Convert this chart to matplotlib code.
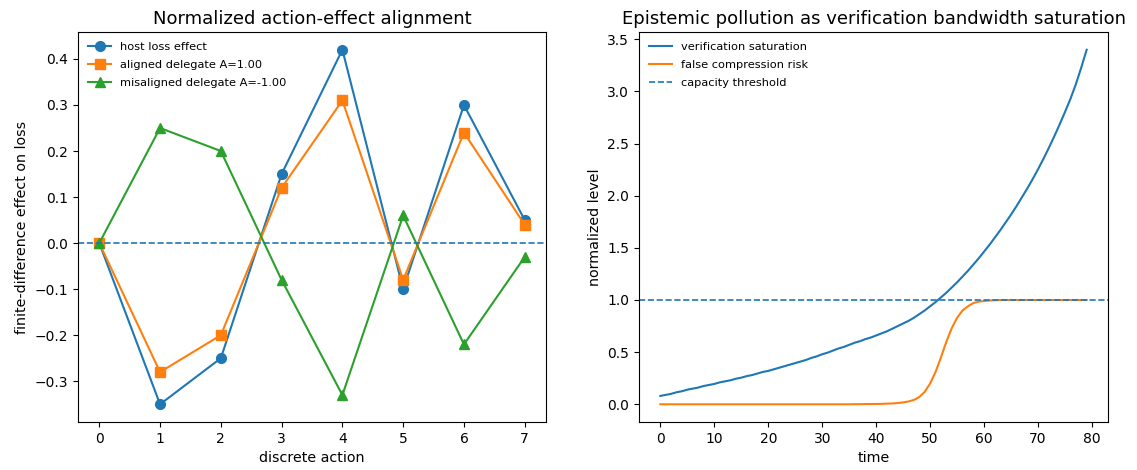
import matplotlib
matplotlib.use("Agg")
import matplotlib.pyplot as plt
import numpy as np

actions = [0, 1, 2, 3, 4, 5, 6, 7]
host_effect = [0.0, -0.35, -0.25, 0.15, 0.42, -0.10, 0.30, 0.05]
aligned_effect = [0.0, -0.28, -0.20, 0.12, 0.31, -0.08, 0.24, 0.04]
misaligned_effect = [0.0, 0.25, 0.20, -0.08, -0.33, 0.06, -0.22, -0.03]

time = list(range(80))
verification = [
    0.08, 0.09, 0.10, 0.115, 0.125, 0.14, 0.15, 0.16, 0.175, 0.185,
    0.195, 0.21, 0.22, 0.23, 0.245, 0.255, 0.27, 0.28, 0.295, 0.31,
    0.32, 0.335, 0.35, 0.365, 0.38, 0.395, 0.41, 0.425, 0.445, 0.46,
    0.48, 0.495, 0.515, 0.535, 0.55, 0.57, 0.59, 0.605, 0.625, 0.64,
    0.66, 0.68, 0.70, 0.725, 0.75, 0.775, 0.80, 0.83, 0.865, 0.90,
    0.94, 0.98, 1.025, 1.07, 1.12, 1.17, 1.225, 1.28, 1.34, 1.40,
    1.465, 1.53, 1.60, 1.67, 1.745, 1.82, 1.90, 1.985, 2.07, 2.16,
    2.255, 2.355, 2.46, 2.57, 2.685, 2.805, 2.93, 3.07, 3.23, 3.40,
]
false_risk = [
    0.0, 0.0, 0.0, 0.0, 0.0, 0.0, 0.0, 0.0, 0.0, 0.0,
    0.0, 0.0, 0.0, 0.0, 0.0, 0.0, 0.0, 0.0, 0.0, 0.0,
    0.0, 0.0, 0.0, 0.0, 0.0, 0.0, 0.0, 0.0, 0.0, 0.0,
    0.0, 0.0, 0.0, 0.0, 0.0, 0.0, 0.001, 0.001, 0.002, 0.002,
    0.003, 0.004, 0.006, 0.008, 0.012, 0.018, 0.027, 0.042, 0.07, 0.12,
    0.20, 0.31, 0.45, 0.60, 0.73, 0.83, 0.90, 0.94, 0.97, 0.985,
    0.99, 0.995, 0.998, 1.0, 1.0, 1.0, 1.0, 1.0, 1.0, 1.0,
    1.0, 1.0, 1.0, 1.0, 1.0, 1.0, 1.0, 1.0, 1.0, 1.0,
]
threshold = 1.0

W, H = 1137, 470
fig = plt.figure(figsize=(W / 100, H / 100), dpi=100)
ax1 = fig.add_axes([78 / W, 1 - 422 / H, 468 / W, 390 / H])
ax2 = fig.add_axes([639 / W, 1 - 422 / H, 469 / W, 390 / H])

ax1.plot(actions, host_effect, marker='o', markersize=7, label='host loss effect')
ax1.plot(actions, aligned_effect, marker='s', markersize=7, label='aligned delegate A=1.00')
ax1.plot(actions, misaligned_effect, marker='^', markersize=7, label='misaligned delegate A=-1.00')
ax1.axhline(0.0, linestyle='--', linewidth=1.2, color='C0')
ax1.set_title('Normalized action-effect alignment', fontsize=13)
ax1.set_xlabel('discrete action', fontsize=10.3)
ax1.set_ylabel('finite-difference effect on loss', fontsize=10.3)
ax1.legend(loc='upper left', fontsize=8.2, frameon=False, labelspacing=0.7)

ax2.plot(time, verification, label='verification saturation')
ax2.plot(time, false_risk, label='false compression risk')
ax2.axhline(threshold, linestyle='--', linewidth=1.2, color='C0', label='capacity threshold')
ax2.set_title('Epistemic pollution as verification bandwidth saturation', fontsize=13)
ax2.set_xlabel('time', fontsize=10.3)
ax2.set_ylabel('normalized level', fontsize=10.3)
ax2.legend(loc='upper left', fontsize=8.2, frameon=False, labelspacing=0.7)

fig.savefig('out.png', dpi=100)
